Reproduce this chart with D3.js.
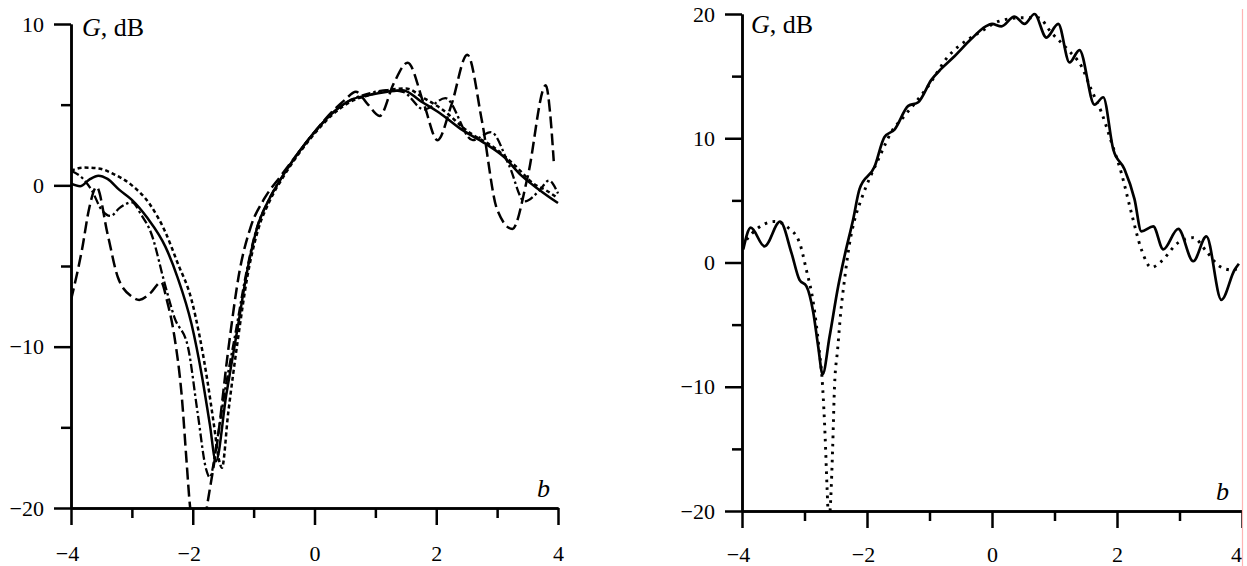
<!DOCTYPE html>
<html>
<head>
<meta charset="utf-8">
<script src="https://cdn.jsdelivr.net/npm/d3@7"></script>
<style>
  body { margin: 0; background: #fff; }
  svg { display: block; }
  text { font-family: "Liberation Serif", "Times New Roman", serif; fill: #000; }
</style>
</head>
<body>
<div id="chart"></div>
<script>
// Data: [b, G dB]
const xTicksMajor = [-4, -2, 0, 2, 4];
const xTicksMinor = [-3, -1, 1, 3];
const leftYMajor = [10, 0, -10, -20];
const leftYMinor = [5, -5, -15];
const rightYMajor = [20, 10, 0, -10, -20];
const rightYMinor = [15, 5, -5, -15];

const leftSolid = [[-4, 0.1], [-3.85, -0.05], [-3.7, 0.35], [-3.55, 0.6], [-3.4, 0.4], [-3.2, -0.3],
  [-3.0, -0.9], [-2.75, -2.0], [-2.45, -3.8], [-2.25, -5.7], [-2.02, -8.6], [-1.85, -11.8],
  [-1.72, -14.8], [-1.62, -17.1], [-1.45, -13.0], [-1.27, -9.0], [-1.1, -5.2], [-0.94, -2.6],
  [-0.75, -0.9], [-0.52, 0.6], [-0.25, 2.1], [0, 3.3], [0.3, 4.5], [0.6, 5.3], [0.9, 5.6],
  [1.2, 5.8], [1.45, 5.9], [1.75, 5.2], [2.05, 4.5], [2.4, 3.5], [2.8, 2.6], [3.1, 1.8],
  [3.4, 0.6], [3.7, -0.3], [4.0, -1.1]];

const leftShortDash = [[-4, 0.9], [-3.8, 1.1], [-3.55, 1.05], [-3.3, 0.7], [-3.0, 0.0], [-2.7, -1.2],
  [-2.45, -2.9], [-2.25, -4.8], [-2.02, -7.1], [-1.89, -9.3], [-1.76, -12.1], [-1.65, -14.9],
  [-1.57, -17.0], [-1.52, -17.5], [-1.42, -14.2], [-1.26, -9.6], [-1.1, -5.6], [-0.93, -2.8],
  [-0.74, -1.0], [-0.5, 0.6], [-0.25, 2.0], [0, 3.2], [0.3, 4.4], [0.6, 5.2], [0.9, 5.6],
  [1.2, 5.9], [1.5, 6.0], [1.8, 5.4], [2.1, 4.7], [2.5, 3.4], [3.0, 2.2], [3.3, 1.2],
  [3.6, 0.1], [3.8, -0.3], [4.0, -0.8]];

const leftDashDot = [[-4, 0.9], [-3.8, 0.4], [-3.66, -0.3], [-3.5, -1.5], [-3.35, -1.9], [-3.2, -1.4],
  [-3.0, -1.05], [-2.85, -1.8], [-2.68, -3.0], [-2.46, -6.1], [-2.3, -8.2], [-2.08, -10.0],
  [-1.92, -14.1], [-1.78, -17.6], [-1.72, -18.1], [-1.6, -15.8], [-1.46, -12.5], [-1.3, -9.2],
  [-1.13, -5.6], [-0.96, -2.8], [-0.75, -0.9], [-0.5, 0.7], [-0.25, 2.1], [0, 3.3], [0.3, 4.5],
  [0.6, 5.3], [0.9, 5.7], [1.2, 5.9], [1.45, 5.8], [1.8, 4.7], [2.15, 5.4], [2.6, 2.8],
  [2.9, 3.3], [3.2, 1.2], [3.45, -1.0], [3.7, -0.3], [3.85, 0.3], [4.0, -0.5]];

const leftLongDash = [[-4, -7.1], [-3.82, -4.0], [-3.7, -1.4], [-3.58, -0.1], [-3.4, -3.0],
  [-3.23, -5.7], [-3.0, -6.9], [-2.88, -7.1], [-2.7, -6.7], [-2.52, -6.0], [-2.42, -7.2],
  [-2.3, -9.4], [-2.18, -13.1], [-2.1, -17.2], [-2.05, -19.7], [-1.95, -22], [-1.85, -22],
  [-1.77, -20], [-1.6, -16], [-1.41, -10], [-1.23, -5.3], [-1.05, -2.6], [-0.82, -0.8],
  [-0.55, 0.6], [-0.25, 2.1], [0, 3.3], [0.3, 4.6], [0.5, 5.3], [0.68, 5.8], [0.88, 5.0],
  [1.07, 4.3], [1.3, 6.3], [1.53, 7.6], [1.8, 5.0], [2.02, 2.8], [2.25, 5.0], [2.51, 8.1],
  [2.75, 4.0], [3.0, -1.5], [3.25, -2.7], [3.5, 0.5], [3.8, 6.2], [3.87, 4.5], [3.93, 1.5]];

const rightSolid = [[-3.98, 1.05], [-3.86, 2.8], [-3.64, 1.3], [-3.39, 3.3], [-3.21, 0.8], [-3.08, -1.4],
  [-2.97, -1.9], [-2.86, -4.0], [-2.78, -6.8], [-2.71, -9.0], [-2.6, -6.0], [-2.46, -1.9],
  [-2.36, 0.5], [-2.22, 3.5], [-2.12, 5.9], [-1.88, 7.7], [-1.72, 10.1], [-1.56, 10.7],
  [-1.34, 12.6], [-1.18, 12.9], [-0.97, 14.7], [-0.81, 15.6], [-0.6, 16.6], [-0.33, 18.0],
  [-0.1, 19.0], [0, 19.2], [0.15, 19.0], [0.36, 19.8], [0.52, 19.2], [0.68, 20.0], [0.87, 18.1],
  [1.06, 19.2], [1.24, 16.1], [1.4, 17.1], [1.64, 12.7], [1.78, 13.3], [1.94, 9.1], [2.12, 7.5],
  [2.28, 5.1], [2.39, 2.5], [2.58, 2.9], [2.74, 1.05], [2.98, 2.7], [3.22, 0.1], [3.43, 2.1],
  [3.67, -3.0], [3.88, -0.6], [3.95, -0.1]];

const rightDotted = [[-4, 1.3], [-3.9, 2.0], [-3.64, 3.1], [-3.48, 3.3], [-3.26, 2.8], [-3.08, 1.6],
  [-2.97, -0.6], [-2.86, -3.2], [-2.77, -6.8], [-2.71, -10], [-2.67, -14], [-2.64, -18],
  [-2.61, -21], [-2.58, -19], [-2.55, -15], [-2.52, -10], [-2.47, -7], [-2.42, -4],
  [-2.36, -1.4], [-2.28, 1.5], [-2.2, 3.4], [-2.09, 5.1], [-1.8, 8.5], [-1.61, 10.5],
  [-1.4, 11.8], [-1.02, 14.2], [-0.7, 16.6], [-0.4, 17.9], [-0.17, 18.6], [0.1, 19.4],
  [0.47, 19.7], [0.74, 19.7], [0.95, 18.5], [1.22, 17.1], [1.43, 15.8], [1.59, 13.9],
  [1.75, 12.1], [1.91, 9.7], [2.07, 7.2], [2.23, 4.0], [2.39, 1.05], [2.55, -0.4], [2.71, 0.1],
  [2.98, 1.6], [3.22, 2.0], [3.43, 0.9], [3.64, -0.3], [3.83, -0.6], [3.95, -0.5]];

const W = 1247, H = 566;
const tickFont = 22;
const labelFont = 26;

const svg = d3.select("#chart").append("svg")
  .attr("width", W)
  .attr("height", H);

const fmt = d => d < 0 ? "\u2212" + Math.abs(d) : String(d);

function drawPanel(p) {
  const x = d3.scaleLinear().domain([-4, 4]).range([p.x0, p.x1]);
  const y = d3.scaleLinear().domain([p.yMin, p.yMax]).range([p.yBottom, p.yTop]);
  const g = svg.append("g");

  // clip curves to the plot box
  g.append("clipPath").attr("id", p.id + "-clip")
    .append("rect")
    .attr("x", p.x0).attr("y", p.yTop - 10)
    .attr("width", p.x1 - p.x0 + 4).attr("height", p.yBottom - p.yTop + 10);

  const line = d3.line()
    .x(d => x(d[0]))
    .y(d => y(d[1]))
    .curve(d3.curveMonotoneX);

  const curves = g.append("g").attr("clip-path", `url(#${p.id}-clip)`);
  p.series.forEach(s => {
    curves.append("path")
      .attr("d", line(s.data))
      .attr("fill", "none")
      .attr("stroke", "#000")
      .attr("stroke-width", s.width)
      .attr("stroke-dasharray", s.dash)
      .attr("stroke-linecap", "butt")
      .attr("stroke-linejoin", "round");
  });

  // y axis
  g.append("g").attr("transform", `translate(${p.x0},0)`)
    .call(d3.axisLeft(y).tickValues(p.yMajor).tickSize(17).tickSizeOuter(0).tickPadding(10).tickFormat(fmt));
  g.append("g").attr("transform", `translate(${p.x0},0)`)
    .call(d3.axisLeft(y).tickValues(p.yMinor).tickSize(10).tickSizeOuter(0).tickFormat(""));

  // x axis
  const xMajor = g.append("g").attr("transform", `translate(0,${p.yBottom})`)
    .call(d3.axisBottom(x).tickValues(xTicksMajor).tickSize(17).tickSizeOuter(0).tickPadding(p.xPad).tickFormat(fmt));
  g.append("g").attr("transform", `translate(0,${p.yBottom})`)
    .call(d3.axisBottom(x).tickValues(xTicksMinor).tickSize(10).tickSizeOuter(0).tickFormat(""));

  g.selectAll(".domain, .tick line")
    .attr("stroke", "#000")
    .attr("stroke-width", 2.5);
  g.selectAll(".tick text")
    .attr("font-family", "Liberation Serif, serif")
    .attr("font-size", tickFont)
    .attr("fill", "#000");
  xMajor.selectAll(".tick text")
    .attr("dx", d => d < 0 ? -4 : (d === 4 ? p.lastDx : 0));

  // axis labels
  const gl = g.append("text")
    .attr("x", p.gx).attr("y", p.gy)
    .attr("font-size", labelFont);
  gl.append("tspan").attr("font-style", "italic").text("G");
  gl.append("tspan").text(", dB");

  g.append("text")
    .attr("x", p.bx).attr("y", p.by)
    .attr("font-size", labelFont)
    .attr("font-style", "italic")
    .text("b");
}

drawPanel({
  id: "left",
  x0: 71, x1: 558, yTop: 24, yBottom: 508,
  yMin: -20, yMax: 10,
  yMajor: leftYMajor, yMinor: leftYMinor,
  xPad: 20, lastDx: 0,
  gx: 82, gy: 36, bx: 537, by: 497,
  series: [
    { data: leftSolid, dash: null, width: 2.5 },
    { data: leftShortDash, dash: "4,3", width: 2.5 },
    { data: leftDashDot, dash: "9,3,2.5,3", width: 2.3 },
    { data: leftLongDash, dash: "12,5", width: 2.5 }
  ]
});

drawPanel({
  id: "right",
  x0: 742, x1: 1242, yTop: 14, yBottom: 511,
  yMin: -20, yMax: 20,
  yMajor: rightYMajor, yMinor: rightYMinor,
  xPad: 18, lastDx: -6,
  gx: 751, gy: 33, bx: 1216, by: 500,
  series: [
    { data: rightSolid, dash: null, width: 2.7 },
    { data: rightDotted, dash: "2.6,5.5", width: 2.9 }
  ]
});

// scanned-page edge on the right
svg.append("rect").attr("x", 1243).attr("y", 0).attr("width", 4).attr("height", H).attr("fill", "#fff");
svg.append("line")
  .attr("x1", 1242.5).attr("x2", 1242.5)
  .attr("y1", 9).attr("y2", H)
  .attr("stroke", "#ffb4b4").attr("stroke-width", 1.2);
</script>
</body>
</html>
